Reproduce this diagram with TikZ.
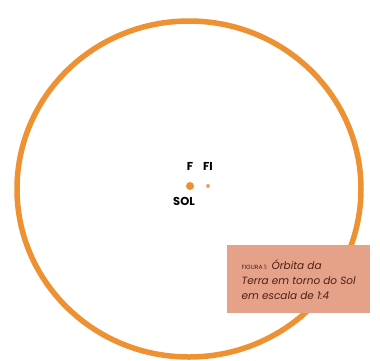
\documentclass[tikz,border=0pt]{standalone}
\usepackage{fontspec}
\setsansfont{Poppins}
\usetikzlibrary{positioning}
\definecolor{orbitorange}{HTML}{EE9133}
\definecolor{captionpink}{HTML}{E6A189}
\definecolor{captiontext}{HTML}{4A2016}
\definecolor{focusorange}{HTML}{EBA263}

\begin{document}
\begin{tikzpicture}[
    x=1pt, y=-1pt,
    orbit/.style={draw=orbitorange, line width=5.5pt},
    body/.style={circle, fill=#1, inner sep=0pt},
    tag/.style={font=\sffamily\bfseries\fontsize{11.5}{13}\selectfont, inner sep=0pt},
    caption/.style={fill=captionpink, anchor=north west, align=left,
                    minimum width=143pt, minimum height=68pt, inner xsep=14pt,
                    text=captiontext, font=\sffamily\itshape\fontsize{10.5}{15}\selectfont}
]
    \useasboundingbox[fill=white] (0,0) rectangle (380,360);

    % Orbit of the Earth
    \draw[orbit] (189,189) ellipse [x radius=172, y radius=168];

    % Sun and second focus
    \node[body=orbitorange, minimum size=8pt] (sol) at (190,186) {};
    \node[body=focusorange, minimum size=4pt] (foco) at (208,186) {};

    % Labels
    \node[tag, above=11pt of sol] (f) {F};
    \node[tag, above=13pt of foco] (fi) {FI};
    \node[tag, below left=8pt and -8pt of sol] (nomesol) {SOL};

    % Caption box
    \node[caption] (legenda) at (227,245) {%
        {\upshape\fontsize{6}{6}\selectfont FIGURA 1:} Órbita da\\
        Terra em torno do Sol\\
        em escala de 1:4};
\end{tikzpicture}
\end{document}
